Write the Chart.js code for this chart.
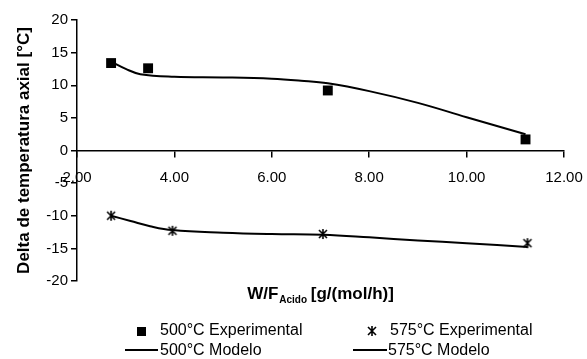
<!DOCTYPE html>
<html>
<head>
<meta charset="utf-8">
<script src="https://cdn.jsdelivr.net/npm/chart.js@4"></script>
<style>
  html, body { margin: 0; padding: 0; background: #fff; }
  #wrap { width: 587px; height: 359px; }
</style>
</head>
<body>
<div id="wrap"><canvas id="chart" width="587" height="359"></canvas></div>
<script>
// experimental points
const xExp500 = [2.70, 3.46, 7.15, 11.21];
const yExp500 = [13.4, 12.6, 9.2, 1.7];
const xExp575 = [2.70, 3.96, 7.05, 11.25];
const yExp575 = [-10.0, -12.3, -12.8, -14.2];
// model curves
const xMod500 = [2.70, 3.0, 3.3, 4.0, 5.0, 6.0, 6.6, 7.15, 8.0, 9.0, 10.0, 11.21];
const yMod500 = [13.6, 12.5, 11.7, 11.3, 11.2, 11.0, 10.7, 10.3, 9.1, 7.3, 5.1, 2.5];
const xMod575 = [2.70, 3.1, 3.5, 3.96, 5.0, 6.0, 7.05, 8.0, 9.0, 10.0, 11.25];
const yMod575 = [-10.0, -10.8, -11.6, -12.2, -12.6, -12.8, -12.9, -13.3, -13.8, -14.2, -14.8];

const labels = ["500°C Experimental", "575°C Experimental", "500°C Modelo", "575°C Modelo"];
const xTicks = [2, 4, 6, 8, 10, 12];
const yTicks = [-20, -15, -10, -5, 0, 5, 10, 15, 20];

const FONT = "'Liberation Sans', Arial, sans-serif";

function pts(xs, ys) { return xs.map((x, i) => ({ x: x, y: ys[i] })); }

// asterisk marker: an x with a vertical bar
function makeStar(size) {
  let c = document.createElement("canvas");
  c.width = size; c.height = size;
  let g = c.getContext("2d");
  g.strokeStyle = "#000"; g.lineWidth = 1.6;
  let m = size / 2, r = size / 2 - 1;
  g.beginPath();
  g.moveTo(m, m - r); g.lineTo(m, m + r);
  g.moveTo(m - r * 0.8, m - r * 0.8); g.lineTo(m + r * 0.8, m + r * 0.8);
  g.moveTo(m + r * 0.8, m - r * 0.8); g.lineTo(m - r * 0.8, m + r * 0.8);
  g.stroke();
  return c;
}
const star = makeStar(12);

const extras = {
  id: "extras",
  afterDraw(chart) {
    const ctx = chart.ctx;
    const area = chart.chartArea;
    ctx.save();
    ctx.fillStyle = "#000";
    ctx.strokeStyle = "#000";
    // x axis title with subscript
    const big = "bold 17px " + FONT, small = "bold 10px " + FONT;
    ctx.font = big; const w1 = ctx.measureText("W/F").width; const w3 = ctx.measureText(" [g/(mol/h)]").width;
    ctx.font = small; const w2 = ctx.measureText("Acido").width;
    let x0 = (area.left + area.right) / 2 - (w1 + w2 + w3) / 2;
    ctx.textBaseline = "alphabetic"; ctx.textAlign = "left";
    ctx.font = big; ctx.fillText("W/F", x0, 299);
    ctx.font = small; ctx.fillText("Acido", x0 + w1 + 1, 303);
    ctx.font = big; ctx.fillText(" [g/(mol/h)]", x0 + w1 + w2, 299);

    // legend
    ctx.font = "16px " + FONT;
    ctx.textBaseline = "middle";
    ctx.fillRect(137, 327, 9, 9);
    ctx.fillText(labels[0], 160, 331);
    ctx.drawImage(star, 366, 325);
    ctx.fillText(labels[1], 390, 331);
    ctx.lineWidth = 2;
    ctx.beginPath();
    ctx.moveTo(125, 350); ctx.lineTo(158, 350);
    ctx.moveTo(353, 350); ctx.lineTo(387, 350);
    ctx.stroke();
    ctx.fillText(labels[2], 160, 351);
    ctx.fillText(labels[3], 388, 351);
    ctx.restore();
  }
};

new Chart(document.getElementById("chart"), {
  type: "scatter",
  data: {
    datasets: [
      { label: labels[0], data: pts(xExp500, yExp500), pointStyle: "rect", pointRadius: 7,
        backgroundColor: "#000", borderColor: "#000", borderWidth: 0, order: 0 },
      { label: labels[1], data: pts(xExp575, yExp575), pointStyle: star, pointRadius: 6,
        backgroundColor: "#000", borderColor: "#000", order: 0 },
      { label: labels[2], data: pts(xMod500, yMod500), showLine: true, pointRadius: 0,
        borderColor: "#000", borderWidth: 2, tension: 0.4, order: 1 },
      { label: labels[3], data: pts(xMod575, yMod575), showLine: true, pointRadius: 0,
        borderColor: "#000", borderWidth: 2, tension: 0.4, order: 1 }
    ]
  },
  options: {
    responsive: false,
    animation: false,
    layout: { padding: { top: 20, right: 23, bottom: 78, left: 0 } },
    plugins: { legend: { display: false }, tooltip: { enabled: false } },
    scales: {
      x: {
        type: "linear",
        position: { y: 0 },
        min: 2, max: 12,
        afterBuildTicks: s => { s.ticks = xTicks.map(v => ({ value: v })); },
        afterFit: s => { s.paddingLeft = 0; s.paddingRight = 0; },
        ticks: { callback: v => v.toFixed(2), color: "#000", padding: 12,
                 font: { family: FONT, size: 15 }, maxRotation: 0 },
        grid: { drawOnChartArea: false, tickLength: 6, color: "#000", lineWidth: 1.5 },
        border: { color: "#000", width: 1.5 }
      },
      y: {
        type: "linear",
        min: -20, max: 20,
        afterBuildTicks: s => { s.ticks = yTicks.map(v => ({ value: v })); },
        afterFit: s => { s.width = 77; },
        ticks: { color: "#000", padding: 3, font: { family: FONT, size: 15 } },
        grid: { drawOnChartArea: false, tickLength: 6, color: "#000", lineWidth: 1.5 },
        border: { color: "#000", width: 1.5 },
        title: { display: true, text: "Delta de temperatura axial [°C]", color: "#000",
                 font: { family: FONT, size: 17, weight: "bold" }, padding: { top: 14, bottom: 0 } }
      }
    }
  },
  plugins: [extras]
});
</script>
</body>
</html>
